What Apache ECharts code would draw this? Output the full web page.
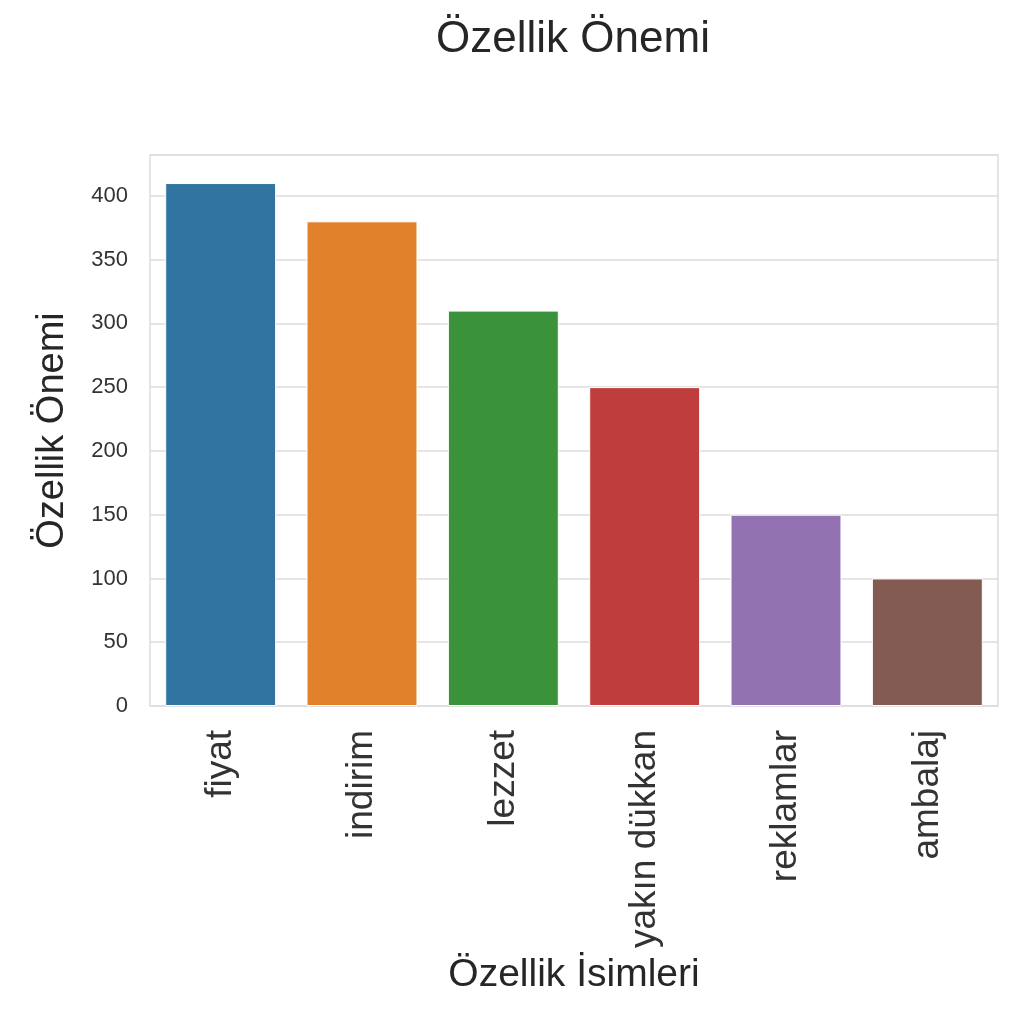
<!DOCTYPE html>
<html>
<head>
<meta charset="utf-8">
<script src="https://cdn.jsdelivr.net/npm/echarts@6/dist/echarts.min.js"></script>
<style>
  html, body { margin: 0; padding: 0; background: #fff; }
  #chart { width: 1034px; height: 1024px; }
</style>
</head>
<body>
<div id="chart"></div>
<script>
var categories = ["fiyat", "indirim", "lezzet", "yakın dükkan", "reklamlar", "ambalaj"];
var importance = [410, 380, 310, 250, 150, 100];
var barColors = ["#3274a1", "#e1812c", "#3a923a", "#c03d3e", "#9372b2", "#845b53"];

var chart = echarts.init(document.getElementById('chart'));

var fontFamily = '"Liberation Sans", Arial, sans-serif';

var option = {
    backgroundColor: '#ffffff',
    animation: false,
    title: {
        text: 'Özellik Önemi',
        left: 568,
        top: 13,
        textAlign: 'center',
        textStyle: {
            fontFamily: fontFamily,
            fontSize: 44,
            fontWeight: 'normal',
            color: '#262626'
        }
    },
    grid: {
        left: 150,
        right: 36,
        top: 155,
        bottom: 318,
        show: true,
        borderColor: '#dddddd',
        borderWidth: 1.5,
        containLabel: false
    },
    xAxis: {
        type: 'category',
        data: categories,
        name: 'Özellik İsimleri',
        nameLocation: 'middle',
        nameGap: 250,
        nameTextStyle: {
            fontFamily: fontFamily,
            fontSize: 39,
            color: '#262626'
        },
        axisLine: { show: false },
        axisTick: { show: false },
        axisLabel: {
            rotate: 90,
            margin: 24,
            fontFamily: fontFamily,
            fontSize: 37,
            color: '#333333'
        }
    },
    yAxis: {
        type: 'value',
        min: 0,
        max: 432,
        interval: 50,
        name: 'Özellik Önemi',
        nameLocation: 'middle',
        nameGap: 78,
        nameTextStyle: {
            fontFamily: fontFamily,
            fontSize: 38,
            color: '#262626'
        },
        axisLine: { show: false },
        axisTick: { show: false },
        axisLabel: {
            margin: 22,
            fontFamily: fontFamily,
            fontSize: 22,
            color: '#333333',
            showMaxLabel: false
        },
        splitLine: {
            lineStyle: { color: '#dddddd', width: 1.5 }
        }
    },
    series: [{
        type: 'bar',
        barWidth: '78.5%',
        data: importance.map(function (v, i) {
            return {
                value: v,
                itemStyle: { color: barColors[i], borderColor: '#ffffff', borderWidth: 1 }
            };
        })
    }]
};

chart.setOption(option);
</script>
</body>
</html>
